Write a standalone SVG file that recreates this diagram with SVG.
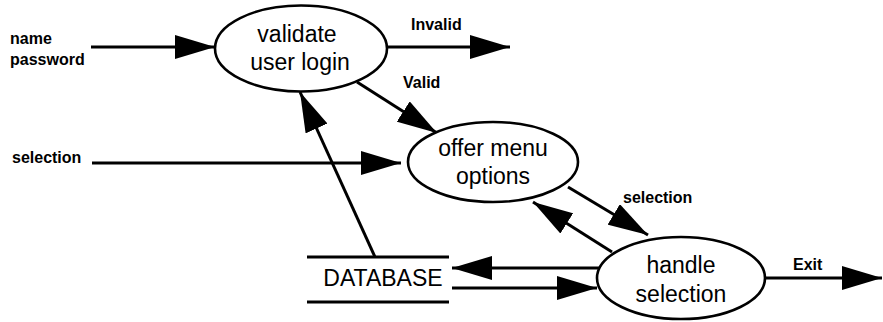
<svg xmlns="http://www.w3.org/2000/svg" width="883" height="322" viewBox="0 0 883 322">
<style>
.node ellipse{fill:#fff;stroke:#000;stroke-width:2.6}
.nt{font-family:"Liberation Sans",Arial,sans-serif;font-size:23px;text-anchor:middle;fill:#000}
.lbl{font-family:"Liberation Sans",Arial,sans-serif;font-size:16px;font-weight:bold;fill:#000}
.c line{stroke:#000;stroke-width:3;marker-end:url(#ah)}
.store line{stroke:#000;stroke-width:3}
</style>
<defs>
<marker id="ah" viewBox="0 0 40 24" refX="40" refY="12" markerWidth="40" markerHeight="24" markerUnits="userSpaceOnUse" orient="auto">
<path d="M0,0 L40,12 L0,24 z" fill="#000"/>
</marker>
</defs>
<rect width="883" height="322" fill="#fff"/>
<g id="connectors" class="c">
<line x1="91" y1="47" x2="215" y2="47"/>
<line x1="387" y1="47" x2="510" y2="47"/>
<line x1="357" y1="82" x2="437" y2="133"/>
<line x1="375" y1="257" x2="300" y2="92"/>
<line x1="92" y1="163" x2="401" y2="163"/>
<line x1="568" y1="187" x2="648" y2="235"/>
<line x1="612" y1="252" x2="533" y2="202"/>
<line x1="600" y1="268" x2="452" y2="268"/>
<line x1="452" y1="288" x2="597" y2="288"/>
<line x1="765" y1="278" x2="882" y2="278"/>
</g>
<g id="labels">
<text class="lbl" x="10" y="44">name</text>
<text class="lbl" x="10" y="65">password</text>
<text class="lbl" x="411" y="30">Invalid</text>
<text class="lbl" x="403" y="88">Valid</text>
<text class="lbl" x="12" y="163">selection</text>
<text class="lbl" x="623" y="203">selection</text>
<text class="lbl" x="793" y="270">Exit</text>
</g>
<g id="validate" class="node">
<ellipse cx="301" cy="48.5" rx="86" ry="43"/>
<text class="nt" x="297" y="42">validate</text>
<text class="nt" x="300" y="70">user login</text>
</g>
<g id="offer" class="node">
<ellipse cx="493" cy="162" rx="85" ry="40"/>
<text class="nt" x="493" y="156">offer menu</text>
<text class="nt" x="493" y="184">options</text>
</g>
<g id="handle" class="node">
<ellipse cx="681" cy="278" rx="84" ry="41"/>
<text class="nt" x="681" y="273">handle</text>
<text class="nt" x="681" y="302">selection</text>
</g>
<g id="database" class="store">
<line x1="307" y1="257" x2="449" y2="257"/>
<line x1="307" y1="302" x2="449" y2="302"/>
<text class="nt" x="383" y="286">DATABASE</text>
</g>
</svg>
